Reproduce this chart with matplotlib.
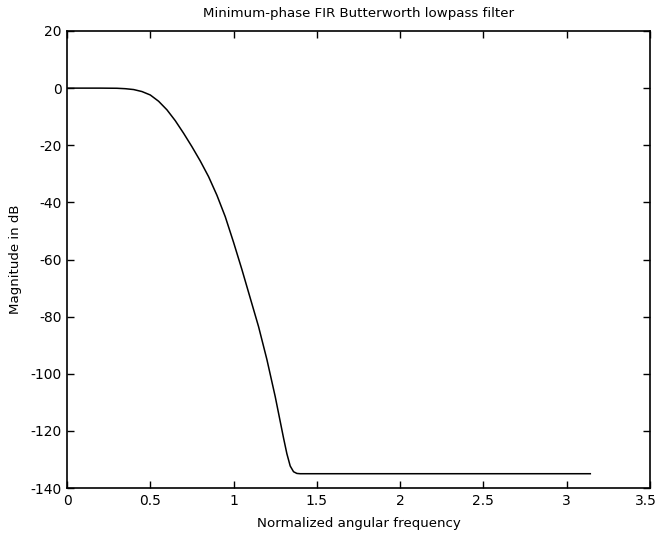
import matplotlib
matplotlib.use("Agg")
import matplotlib.pyplot as plt
import matplotlib.transforms as mtransforms

omega = [0.0, 0.10, 0.20, 0.30, 0.35, 0.40, 0.45, 0.50, 0.55, 0.60, 0.65, 0.70,
         0.75, 0.80, 0.85, 0.90, 0.95, 1.00, 1.05, 1.10, 1.15, 1.20, 1.25,
         1.30, 1.32, 1.34, 1.36, 1.38, 1.40, 1.50, 2.00, 2.50, 3.00, 3.1416]
mag_db = [0.0, 0.0, 0.0, -0.05, -0.2, -0.5, -1.2, -2.4, -4.6, -7.6, -11.4, -15.8,
          -20.5, -25.5, -31.0, -37.5, -45.0, -54.0, -63.5, -73.5, -83.5, -95.0, -108.0,
          -122.5, -128.0, -132.3, -134.3, -134.9, -135.0, -135.0, -135.0, -135.0, -135.0, -135.0]

xticks = [0, 0.5, 1, 1.5, 2, 2.5, 3, 3.5]
xticklabels = ["0", "0.5", "1", "1.5", "2", "2.5", "3", "3.5"]
yticks = [-140, -120, -100, -80, -60, -40, -20, 0, 20]
yticklabels = ["-140", "-120", "-100", "-80", "-60", "-40", "-20", "0", "20"]

plt.rcParams['font.family'] = ['DejaVu Sans']
fig = plt.figure(figsize=(6.59, 5.35), dpi=100)
ax = fig.add_axes([67/659, 47/535, 583/659, 457/535])
ax.plot(omega, mag_db, color='black', linewidth=1.1)
ax.set_xlim(0, 3.5)
ax.set_ylim(-140, 20)
ax.set_xticks(xticks)
ax.set_xticklabels(xticklabels)
ax.set_yticks(yticks)
ax.set_yticklabels(yticklabels)
ax.tick_params(direction='in', length=5, top=True, right=True, labelsize=10, width=1, pad=4)
for s in ax.spines.values():
    s.set_linewidth(1.2)
ax.set_title("Minimum-phase FIR Butterworth lowpass filter", fontsize=9.6, pad=10)
ax.set_xlabel("Normalized angular frequency", fontsize=9.6, labelpad=7)
ax.set_ylabel("Magnitude in dB", fontsize=9.6, labelpad=6)

last = ax.get_xticklabels()[-1]
last.set_transform(last.get_transform() + mtransforms.ScaledTranslation(-4/100, 0, fig.dpi_scale_trans))
fig.savefig("out.png", dpi=100)
